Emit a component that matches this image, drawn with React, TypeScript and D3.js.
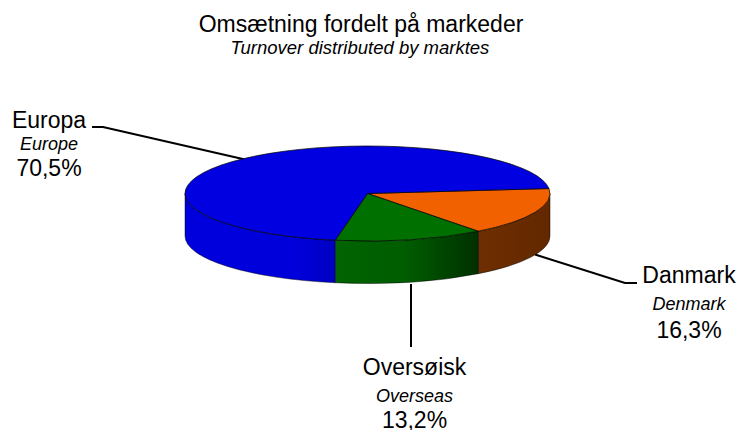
import React from "react";
import * as d3 from "d3";

const categories = ["Danmark", "Oversøisk", "Europa"];
const translations = ["Denmark", "Overseas", "Europe"];
const percentLabels = ["16,3%", "13,2%", "70,5%"];
const values = [16.3, 13.2, 70.5];
const topColors = ["#f26100", "#007000", "#0000e0"];
const FONT = '"Liberation Sans", Arial, sans-serif';

const cx = 367.5, cy = 193.5, rx = 182.5, ry = 47.5, depth = 42.5;
const startDeg = 84;

const pt = (a: number, dy = 0): [number, number] => [cx + rx * Math.sin(a), cy - ry * Math.cos(a) + dy];

function sidePath(a0: number, a1: number) {
  const lo = Math.max(a0, Math.PI / 2), hi = Math.min(a1, 1.5 * Math.PI);
  if (hi <= lo) return null;
  const [x0, y0] = pt(lo), [x1, y1] = pt(hi);
  return `M${x0},${y0}A${rx},${ry} 0 0 1 ${x1},${y1}L${x1},${y1 + depth}A${rx},${ry} 0 0 0 ${x0},${y0 + depth}Z`;
}

const labels = [
  { x: 689, y: [283, 310, 338], line: [[535, 254.5], [625, 283], [637, 283]] },
  { x: 414.5, y: [375, 402, 428], line: [[411, 284], [411, 347]] },
  { x: 49, y: [128, 150, 176], line: [[245, 159.5], [103, 127], [92, 127]] },
];

export default function App() {
  const arcs = d3.pie<number>().sort(null).startAngle((startDeg * Math.PI) / 180).endAngle((startDeg * Math.PI) / 180 + 2 * Math.PI)(values);
  const arcGen = d3.arc<d3.PieArcDatum<number>>().innerRadius(0).outerRadius(rx);
  const line = d3.line();
  return (
    <svg width={737} height={430} style={{ position: "absolute", left: 0, top: 0 }}>
      <defs>
        <linearGradient id="g0" x1="0" x2="1" y1="0" y2="0">
          <stop offset="0" stopColor="#6e2e00" />
          <stop offset="1" stopColor="#632800" />
        </linearGradient>
        <linearGradient id="g1" x1="0" x2="1" y1="0" y2="0">
          <stop offset="0" stopColor="#006400" />
          <stop offset="0.5" stopColor="#005c00" />
          <stop offset="1" stopColor="#003000" />
        </linearGradient>
        <linearGradient id="g2" x1="0" x2="1" y1="0" y2="0">
          <stop offset="0" stopColor="#0000de" />
          <stop offset="0.75" stopColor="#0000da" />
          <stop offset="1" stopColor="#0000c0" />
        </linearGradient>
      </defs>
      <rect width={737} height={430} fill="#fff" />
      <text x={361} y={32} textAnchor="middle" fontFamily={FONT} fontSize={23} fill="#000">Omsætning fordelt på markeder</text>
      <text x={360} y={54} textAnchor="middle" fontFamily={FONT} fontSize={18.5} fontStyle="italic" fill="#000">Turnover distributed by marktes</text>

      {labels.map((l, i) => (
        <path key={i} d={line(l.line as [number, number][]) ?? ""} fill="none" stroke="#000" strokeWidth={2} />
      ))}

      {arcs.map((a, i) => {
        const p = sidePath(a.startAngle, a.endAngle);
        return p ? <path key={i} d={p} fill={`url(#g${i})`} stroke="#000" strokeOpacity={0.45} strokeWidth={1} /> : null;
      })}
      <g transform={`translate(${cx},${cy}) scale(1,${ry / rx})`}>
        {arcs.map((a, i) => (
          <path key={i} d={arcGen(a) ?? ""} fill={topColors[i]} stroke="#000" strokeOpacity={0.7} strokeWidth={1} style={{ vectorEffect: "non-scaling-stroke" }} />
        ))}
      </g>

      {labels.map((l, i) => (
        <g key={i} textAnchor="middle" fontFamily={FONT} fill="#000">
          <text x={l.x} y={l.y[0]} fontSize={23}>{categories[i]}</text>
          <text x={l.x} y={l.y[1]} fontSize={18} fontStyle="italic">{translations[i]}</text>
          <text x={l.x} y={l.y[2]} fontSize={23}>{percentLabels[i]}</text>
        </g>
      ))}
    </svg>
  );
}
